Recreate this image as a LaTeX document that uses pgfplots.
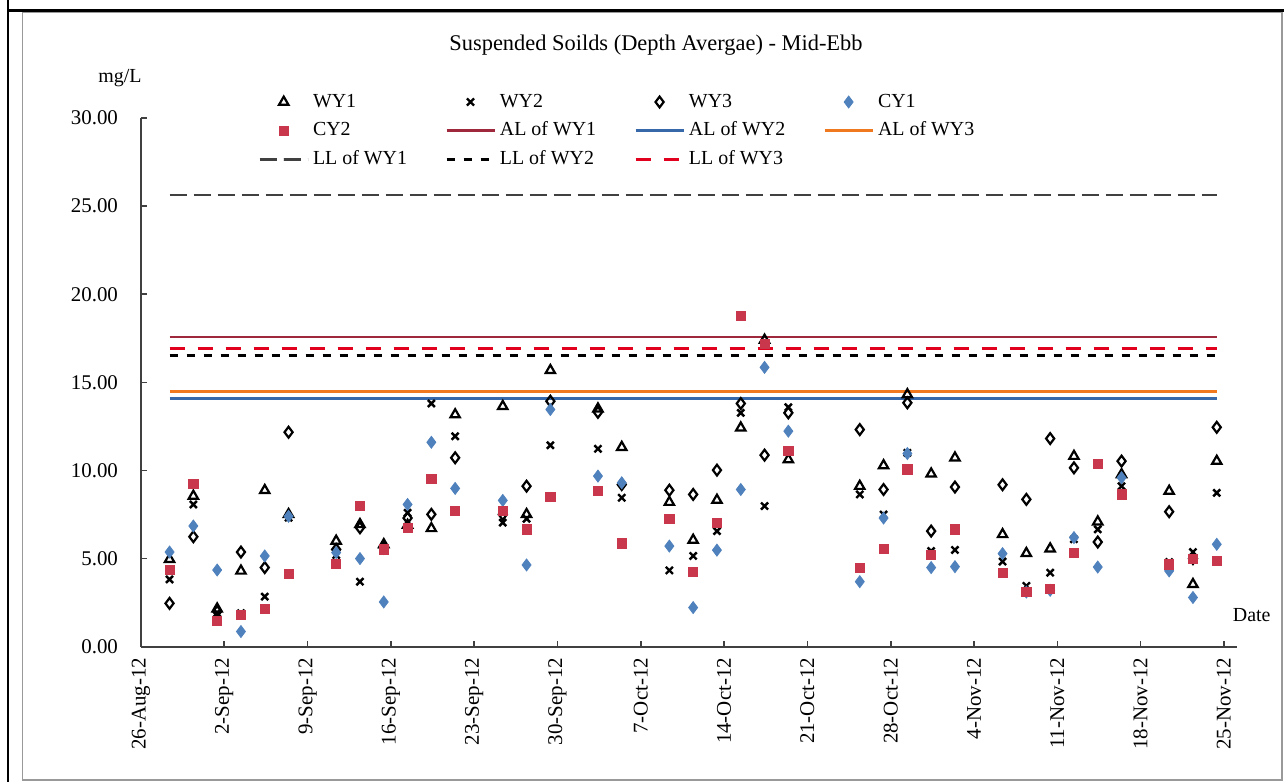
\documentclass[border=0pt]{standalone}
\usepackage{fontspec}
\setmainfont{Liberation Serif}
\usepackage{pgfplots}
\pgfplotsset{compat=1.18}
\usepackage{pgfplotstable}

\definecolor{cyone}{RGB}{79,129,189}
\definecolor{cytwo}{RGB}{200,55,75}
\definecolor{alone}{RGB}{160,40,60}
\definecolor{altwo}{RGB}{55,105,170}
\definecolor{althree}{RGB}{240,120,30}
\definecolor{llthree}{RGB}{225,0,30}

% x = days after 26-Aug-12
\pgfplotstableread{
x    WY1   WY2   WY3   CY1   CY2
2.4  4.96  3.82  2.46  5.37  4.35
4.4  8.55  8.07  6.24  6.85  9.26
6.4  2.15  1.90  2.00  4.35  1.46
8.4  4.30  1.90  5.37  0.86  1.80
10.4 8.87  2.84  4.49  5.15  2.16
12.4 7.51  7.32  12.17 7.40  4.15
16.4 6.00  5.20  5.52  5.34  4.71
18.4 6.94  3.69  6.75  5.00  7.98
20.4 5.80  5.50  5.60  2.54  5.52
22.4 6.90  7.60  7.30  8.07  6.75
24.4 6.71  13.80 7.51  11.60 9.53
26.4 13.17 11.94 10.72 8.98  7.70
30.4 13.64 7.04  7.50  8.30  7.70
32.4 7.51  7.26  9.11  4.64  6.66
34.4 15.68 11.43 13.93 13.46 8.49
38.4 13.50 11.23 13.30 9.68  8.83
40.4 11.32 8.45  9.20  9.30  5.86
44.4 8.20  4.33  8.88  5.71  7.26
46.4 6.05  5.15  8.64  2.22  4.26
48.4 8.32  6.56  10.02 5.48  7.04
50.4 12.42 13.27 13.80 8.92  18.78
52.4 17.40 7.98  10.87 15.85 17.18
54.4 10.62 13.59 13.27 12.23 11.10
60.4 9.11  8.64  12.32 3.69  4.49
62.4 10.28 7.50  8.92  7.30  5.56
64.4 14.31 11.00 13.84 10.96 10.06
66.4 9.81  5.43  6.56  4.49  5.20
68.4 10.72 5.49  9.06  4.54  6.66
72.4 6.37  4.83  9.19  5.28  4.20
74.4 5.30  3.45  8.36  3.10  3.13
76.4 5.56  4.20  11.81 3.20  3.26
78.4 10.81 6.10  10.15 6.19  5.34
80.4 7.09  6.66  5.94  4.52  10.38
82.4 9.77  9.11  10.53 9.59  8.64
86.4 8.83  4.80  7.66  4.30  4.67
88.4 3.54  5.37  5.00  2.79  5.00
90.4 10.53 8.73  12.45 5.81  4.86
}\data

\begin{document}
\begin{tikzpicture}
\path[use as bounding box] (-70.5bp,-67.65bp) rectangle (571.5bp,323.35bp);
% frames
\draw[black!40, line width=0.6bp] (-59.25bp,-66.65bp) rectangle (570.5bp,317.1bp);
\draw[black, line width=1.3bp] (-66.5bp,318.1bp) -- (571.5bp,318.1bp);
\draw[black, line width=1bp] (-66.25bp,323.35bp) -- (-66.25bp,-67.65bp);

\begin{axis}[
  at={(0,0)}, anchor=south west,
  scale only axis, width=548bp, height=264.35bp,
  xmin=0, xmax=92.1, ymin=0, ymax=30,
  axis x line*=bottom, axis y line*=left,
  axis line style={black!75, line width=0.8bp},
  tick style={black!75, line width=0.8bp},
  major tick length=3bp,
  tick align=inside,
  tick label style={font=\fontsize{10.5}{12}\selectfont},
  xtick={0,7,...,91},
  xticklabels={26-Aug-12,2-Sep-12,9-Sep-12,16-Sep-12,23-Sep-12,30-Sep-12,7-Oct-12,14-Oct-12,21-Oct-12,28-Oct-12,4-Nov-12,11-Nov-12,18-Nov-12,25-Nov-12},
  xticklabel style={rotate=90, anchor=east},
  xticklabel shift=2.1bp,
  ytick={0,5,...,30},
  yticklabel shift=8bp,
  yticklabel style={/pgf/number format/.cd, fixed, fixed zerofill, precision=2, assume math mode=true},
  legend columns=4,
  legend cell align=left,
  legend image code/.code={\draw[mark repeat=2,mark phase=2] plot coordinates {(0bp,0bp) (12bp,0bp) (24bp,0bp)};},
  legend style={draw=none, fill=none, inner sep=0pt,
    at={(axis description cs:0.1068,1.0556)}, anchor=north west,
    nodes={inner sep=2bp, text height=7bp, text depth=2bp},
    /tikz/row sep=1.3bp,
    /tikz/every even column/.append style={column sep=17bp}},
]
\addplot[only marks, mark=triangle, mark size=2.7bp, black, line width=1.1bp] table[x=x,y=WY1] {\data};
\addlegendentry{WY1}
\addplot[only marks, mark=x, mark size=2.5bp, black, line width=1.2bp] table[x=x,y=WY2] {\data};
\addlegendentry{WY2}
\addplot[only marks, mark=diamond, mark size=2.7bp, black, line width=1.1bp] table[x=x,y=WY3] {\data};
\addlegendentry{WY3}
\addplot[only marks, mark=diamond*, mark size=3bp, cyone] table[x=x,y=CY1] {\data};
\addlegendentry{CY1}
\addplot[only marks, mark=square*, mark size=2.3bp, cytwo] table[x=x,y=CY2] {\data};
\addlegendentry{CY2}
\addplot[alone, line width=1.4bp] coordinates {(2.4,17.57) (90.4,17.57)};
\addlegendentry{AL of WY1}
\addplot[altwo, line width=1.4bp] coordinates {(2.4,14.08) (90.4,14.08)};
\addlegendentry{AL of WY2}
\addplot[althree, line width=1.4bp] coordinates {(2.4,14.49) (90.4,14.49)};
\addlegendentry{AL of WY3}
\addplot[black!75, line width=1.3bp, dash pattern=on 8.5bp off 3.5bp] coordinates {(2.4,25.64) (90.4,25.64)};
\addlegendentry{LL of WY1}
\addplot[black, line width=1.3bp, dash pattern=on 4bp off 4.5bp] coordinates {(2.4,16.53) (90.4,16.53)};
\addlegendentry{LL of WY2}
\addplot[llthree, line width=1.4bp, dash pattern=on 7.5bp off 6.5bp] coordinates {(2.4,16.9) (90.4,16.9)};
\addlegendentry{LL of WY3}
\end{axis}

\node[font=\fontsize{11.25}{13}\selectfont] at (257.5bp,300.85bp) {Suspended Soilds (Depth Avergae) - Mid-Ebb};
\node at (-10.5bp,284.35bp) {mg/L};
\node at (555.35bp,15.85bp) {Date};
\end{tikzpicture}
\end{document}
